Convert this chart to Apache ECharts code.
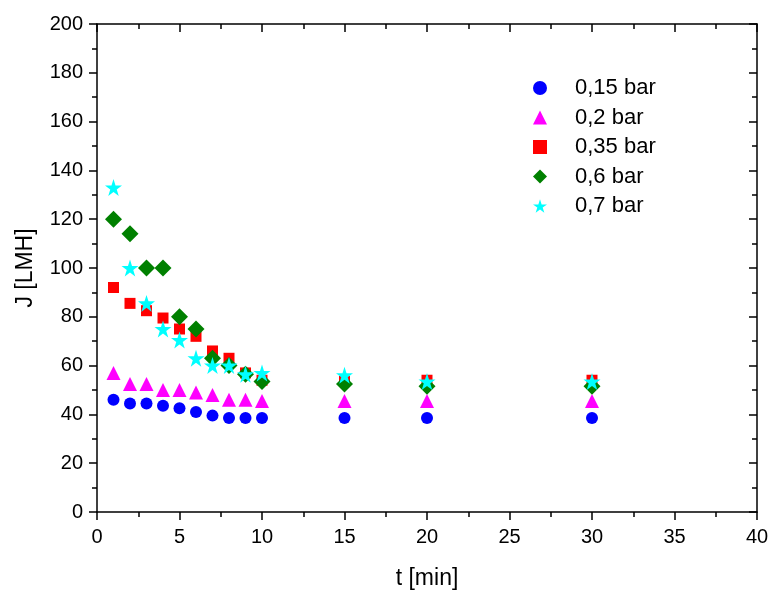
<!DOCTYPE html>
<html><head><meta charset="utf-8">
<script src="https://cdn.jsdelivr.net/npm/echarts@6/dist/echarts.min.js"></script>
<style>html,body{margin:0;padding:0;background:#fff}#c{width:772px;height:595px}</style>
</head><body><div id="c"></div>
<script>
var times = [1, 2, 3, 4, 5, 6, 7, 8, 9, 10, 15, 20, 30];
var seriesNames = ['0,15 bar', '0,2 bar', '0,35 bar', '0,6 bar', '0,7 bar'];
var j015 = [46, 44.5, 44.5, 43.5, 42.5, 41, 39.5, 38.5, 38.5, 38.5, 38.5, 38.5, 38.5];
var j02 = [57, 52.5, 52.5, 50, 50, 49, 48, 46, 46, 45.5, 45.5, 45.5, 45.5];
var j035 = [92, 85.5, 82.5, 79.5, 75, 72, 66, 63, 57, 54, 53.5, 54, 54];
var j06 = [120, 114, 100, 100, 80, 75, 63, 60, 56.5, 53.5, 52.5, 51.5, 51.5];
var j07 = [133, 100, 85.5, 75, 70.5, 63, 60, 60, 56.5, 57, 56, 53.5, 53.5];

var starPath = 'path://M50,0 L61.23,34.55 L97.55,34.55 L68.16,55.9 L79.39,90.45 L50,69.1 L20.61,90.45 L31.84,55.9 L2.45,34.55 L38.77,34.55 Z';
var allValues = [j015, j02, j035, j06, j07];
var colors = ['#0000FF', '#FF00FF', '#FF0000', '#008000', '#00FFFF'];
var symbols = ['circle', 'triangle', 'rect', 'diamond', starPath];
var sizes = [12, 14, 11, 17, 17];

function pairs(vals) { return times.map(function (t, i) { return [t, vals[i]]; }); }

var font = 'Liberation Sans, Arial, sans-serif';
var series = seriesNames.map(function (n, k) {
  return {
    name: n, type: 'scatter', xAxisIndex: 0, yAxisIndex: 0,
    symbol: symbols[k], symbolSize: sizes[k],
    itemStyle: { color: colors[k], opacity: 1 },
    data: pairs(allValues[k])
  };
});

var axLine = { show: true, onZero: false, lineStyle: { color: '#000', width: 1.5 } };
var tickStyle = { color: '#000', width: 1.5 };
var chart = echarts.init(document.getElementById('c'), null, { renderer: 'canvas' });
chart.setOption({
  animation: false,
  backgroundColor: '#fff',
  grid: { left: 97, right: 15, top: 24, bottom: 83, containLabel: false },
  legend: {
    orient: 'vertical', left: 528, top: 72, itemWidth: 14, itemHeight: 14, itemGap: 7.5,
    data: seriesNames,
    textStyle: { fontFamily: font, fontSize: 22, color: '#000', lineHeight: 22, padding: [0, 0, 0, 23] }
  },
  xAxis: [
    { type: 'value', position: 'bottom', min: 0, max: 40, interval: 5,
      name: 't [min]', nameLocation: 'middle', nameGap: 55,
      nameTextStyle: { fontFamily: font, fontSize: 23, color: '#000' },
      axisLine: axLine, splitLine: { show: false },
      axisTick: { show: true, inside: false, length: 8, lineStyle: tickStyle },
      minorTick: { show: true, splitNumber: 2, length: 5, lineStyle: tickStyle },
      axisLabel: { fontFamily: font, fontSize: 20, color: '#000', margin: 15 } },
    { type: 'value', position: 'top', min: 0, max: 40, interval: 5,
      axisLine: axLine, splitLine: { show: false },
      axisTick: { show: true, inside: true, length: 8, lineStyle: tickStyle },
      minorTick: { show: true, splitNumber: 2, length: 5, lineStyle: tickStyle },
      axisLabel: { show: false } }
  ],
  yAxis: [
    { type: 'value', position: 'left', min: 0, max: 200, interval: 20,
      name: 'J [LMH]', nameLocation: 'middle', nameGap: 60,
      nameTextStyle: { fontFamily: font, fontSize: 23, color: '#000' },
      axisLine: axLine, splitLine: { show: false },
      axisTick: { show: true, inside: false, length: 8, lineStyle: tickStyle },
      minorTick: { show: true, splitNumber: 2, length: 5, lineStyle: tickStyle },
      axisLabel: { fontFamily: font, fontSize: 20, color: '#000', margin: 14 } },
    { type: 'value', position: 'right', min: 0, max: 200, interval: 20,
      axisLine: axLine, splitLine: { show: false },
      axisTick: { show: true, inside: true, length: 8, lineStyle: tickStyle },
      minorTick: { show: true, splitNumber: 2, length: 5, lineStyle: tickStyle },
      axisLabel: { show: false } }
  ],
  series: series
});
</script></body></html>
